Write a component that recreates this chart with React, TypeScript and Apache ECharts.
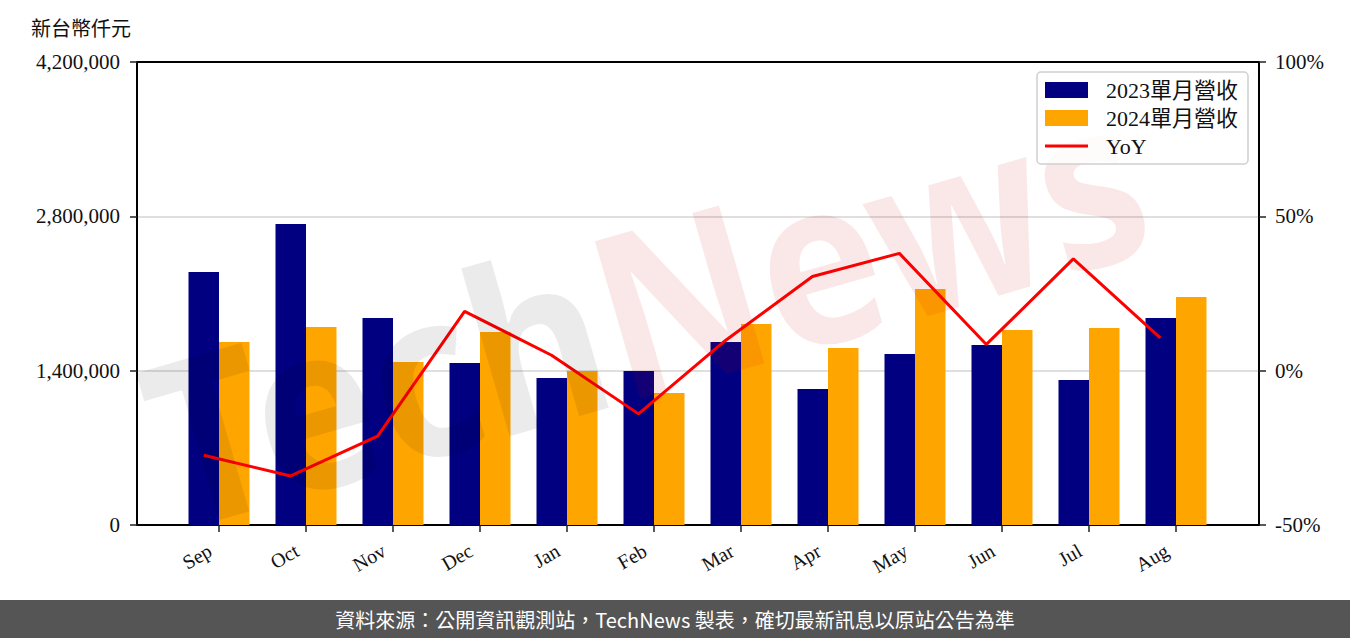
import React, { useEffect, useRef } from "react";
import * as echarts from "echarts";

const months = ["Sep", "Oct", "Nov", "Dec", "Jan", "Feb", "Mar", "Apr", "May", "Jun", "Jul", "Aug"];
const revenue2023 = [2295000, 2730000, 1878000, 1470000, 1333000, 1397000, 1660000, 1234000, 1551000, 1633000, 1315000, 1878000];
const revenue2024 = [1660000, 1796000, 1479000, 1751000, 1397000, 1197000, 1823000, 1606000, 2141000, 1769000, 1787000, 2068000];
const yoyPct = [-27.4, -34.1, -21.2, 19.2, 5.0, -14.0, 9.8, 30.5, 38.0, 8.5, 36.2, 10.6];
const leftTicks = [0, 1400000, 2800000, 4200000];
const rightTicks = [-50, 0, 50, 100];
const seriesNames = ["2023單月營收", "2024單月營收", "YoY"];
const unitLabel = "新台幣仟元";
const footerText = "資料來源：公開資訊觀測站，TechNews 製表，確切最新訊息以原站公告為準";

const SERIF = "'Liberation Serif', 'Noto Sans CJK TC', serif";
const CJK = "'Noto Sans CJK TC', sans-serif";

export default function App() {
  const ref = useRef<HTMLDivElement>(null);
  useEffect(() => {
    if (!ref.current) return;
    const chart = echarts.init(ref.current, undefined, { renderer: "svg" });
    const top = 62;
    const bottom = 113;
    const frameAxis = (pos: string) => ({
      gridIndex: 0,
      type: "value",
      position: pos,
      min: 0,
      max: 1,
      axisLine: { show: true, onZero: false, lineStyle: { color: "#000", width: 2 } },
      axisTick: { show: false },
      axisLabel: { show: false },
      splitLine: { show: false },
    });
    const option: any = {
      animation: false,
      backgroundColor: "#fff",
      grid: [
        { left: 137, right: 91, top, bottom },
        { left: 175.5, right: 130.5, top, bottom },
        { left: 160.25, right: 146.25, top, bottom },
        { left: 166.5, right: 139.5, top, bottom },
      ],
      xAxis: [
        frameAxis("bottom"),
        frameAxis("top"),
        {
          gridIndex: 1,
          type: "category",
          data: months,
          axisLine: { show: false },
          axisTick: { show: true, alignWithLabel: true, length: 7, lineStyle: { color: "#222", width: 1.5 } },
          axisLabel: { show: false },
        },
        { gridIndex: 2, type: "category", data: months, show: false },
        {
          gridIndex: 3,
          type: "category",
          data: months,
          axisLine: { show: false },
          axisTick: { show: false },
          axisLabel: { rotate: 30, margin: 24, fontSize: 20, fontFamily: SERIF, color: "#111" },
        },
      ],
      yAxis: [
        {
          gridIndex: 0,
          type: "value",
          position: "left",
          min: leftTicks[0],
          max: leftTicks[leftTicks.length - 1],
          interval: leftTicks[1] - leftTicks[0],
          axisLine: { show: true, onZero: false, lineStyle: { color: "#000", width: 2 } },
          axisTick: { show: true, length: 7, lineStyle: { color: "#222", width: 1.5 } },
          axisLabel: {
            margin: 17,
            fontSize: 21,
            fontFamily: SERIF,
            color: "#111",
            formatter: (v: number) => v.toLocaleString("en-US"),
          },
          splitLine: { show: true, lineStyle: { color: "#d4d4d4", width: 1.5 } },
        },
        {
          gridIndex: 0,
          type: "value",
          position: "right",
          min: rightTicks[0],
          max: rightTicks[rightTicks.length - 1],
          interval: rightTicks[1] - rightTicks[0],
          axisLine: { show: true, onZero: false, lineStyle: { color: "#000", width: 2 } },
          axisTick: { show: true, length: 7, lineStyle: { color: "#222", width: 1.5 } },
          axisLabel: { margin: 16, fontSize: 21, fontFamily: SERIF, color: "#111", formatter: (v: number) => `${v}%` },
          splitLine: { show: false },
        },
        { gridIndex: 1, type: "value", min: leftTicks[0], max: leftTicks[leftTicks.length - 1], show: false },
        { gridIndex: 2, type: "value", min: rightTicks[0], max: rightTicks[rightTicks.length - 1], show: false },
        { gridIndex: 3, type: "value", min: 0, max: 1, show: false },
      ],
      legend: {
        left: 1037,
        top: 72,
        orient: "vertical",
        itemWidth: 43,
        itemHeight: 16,
        itemGap: 6,
        padding: [7, 10, 7, 8],
        backgroundColor: "rgba(255,255,255,0.8)",
        borderColor: "#cfcfcf",
        borderWidth: 1.5,
        borderRadius: 4,
        z: 70,
        textStyle: { fontSize: 22, fontFamily: SERIF, color: "#111", padding: [0, 0, 0, 13] },
        data: [
          { name: seriesNames[0], icon: "rect" },
          { name: seriesNames[1], icon: "rect" },
          { name: seriesNames[2], icon: "path://M0,0L43,0L43,3L0,3Z", itemStyle: { color: "#ff0000" } },
        ],
      },
      series: [
        {
          name: seriesNames[0],
          type: "bar",
          xAxisIndex: 2,
          yAxisIndex: 2,
          data: revenue2023,
          barWidth: 30.5,
          barGap: "0%",
          itemStyle: { color: "#000080" },
        },
        {
          name: seriesNames[1],
          type: "bar",
          xAxisIndex: 2,
          yAxisIndex: 2,
          data: revenue2024,
          barWidth: 30.5,
          barGap: "0%",
          itemStyle: { color: "#FFA500" },
        },
        {
          name: seriesNames[2],
          type: "line",
          xAxisIndex: 3,
          yAxisIndex: 3,
          data: yoyPct,
          symbol: "none",
          z: 4,
          lineStyle: { color: "#ff0000", width: 3 },
          itemStyle: { color: "#ff0000" },
        },
      ],
      graphic: [
        {
          type: "text",
          x: 31,
          y: 27,
          style: { text: unitLabel, fontSize: 20, fontFamily: CJK, fill: "#111", align: "left", verticalAlign: "middle" },
        },
        {
          type: "text",
          x: 645,
          y: 305,
          rotation: 0.28,
          scaleX: 1.02,
          scaleY: 1.15,
          z: 50,
          silent: true,
          style: {
            text: "{a|Tech}{b|News}",
            align: "center",
            verticalAlign: "middle",
            rich: {
              a: { fill: "rgba(0,0,0,0.08)", fontSize: 200, fontFamily: "'Noto Sans', sans-serif", fontWeight: "bold" },
              b: { fill: "rgba(200,0,0,0.09)", fontSize: 200, fontFamily: "'Noto Sans', sans-serif", fontWeight: "bold" },
            },
          },
        },
        {
          type: "rect",
          x: 0,
          y: 600,
          z: 60,
          shape: { width: 1350, height: 38 },
          style: { fill: "#555555" },
        },
        {
          type: "text",
          x: 675,
          y: 619,
          z: 61,
          style: { text: footerText, fontSize: 20, fontFamily: CJK, fill: "#fff", align: "center", verticalAlign: "middle" },
        },
      ],
    };
    chart.setOption(option);
    return () => chart.dispose();
  }, []);
  return <div ref={ref} style={{ position: "absolute", left: 0, top: 0, width: 1350, height: 638, background: "#fff" }} />;
}
